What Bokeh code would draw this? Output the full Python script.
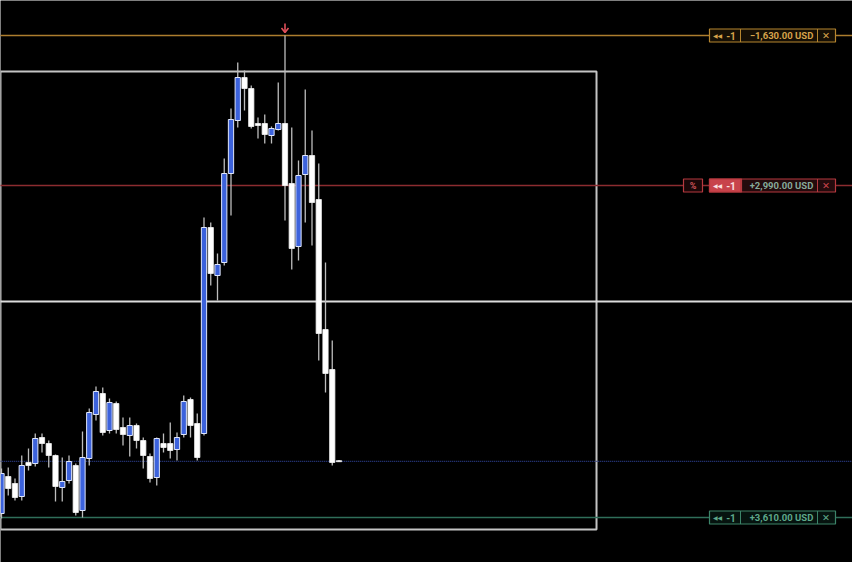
from bokeh.plotting import figure
from bokeh.models import Range1d
from bokeh.core.properties import value
from bokeh.embed import file_html
from bokeh.resources import INLINE

# ---------------- data (prices) ----------------
opens = [2143.5, 2162, 2158.5, 2152, 2169, 2168.5, 2181.5, 2178.5, 2172.5, 2156.5,
         2160, 2167.5, 2145, 2171, 2193, 2203.5, 2185, 2198.5, 2186.5, 2182.5,
         2187.5, 2180, 2172, 2161.5, 2178.5, 2178.5, 2175.5, 2183, 2200.5, 2188.5,
         2183.5, 2286.5, 2262.5, 2269, 2313.5, 2340, 2361.5, 2356, 2338.5, 2338.5,
         2332.5, 2335.5, 2338.5, 2308.5, 2277, 2313, 2322.5, 2300.5, 2235.5, 2215.5,
         2169.9]
highs = [2166, 2166.5, 2161, 2172.5, 2176, 2183.5, 2183.5, 2180, 2173, 2171.5,
         2172.5, 2168.5, 2184.5, 2196, 2207, 2206.5, 2201, 2199.5, 2191.5, 2191.5,
         2188.5, 2181.5, 2173.5, 2181.5, 2183.5, 2189, 2184, 2202.5, 2201.5, 2193.5,
         2291.5, 2289, 2273.5, 2321, 2346, 2369, 2365, 2357.5, 2341.5, 2343,
         2337, 2359, 2382.5, 2336.5, 2320, 2355.5, 2335, 2318.5, 2269, 2230,
         2170.2]
lows = [2141, 2152.5, 2150, 2150, 2165, 2167, 2174, 2166.5, 2149.5, 2149.5,
        2158.5, 2142.5, 2141.5, 2167.5, 2190, 2182.5, 2183.5, 2183.5, 2177.5, 2172,
        2176, 2166, 2159, 2157.5, 2174, 2171, 2170, 2181.5, 2181.5, 2170,
        2182.5, 2257.5, 2250, 2267.5, 2292.5, 2336.5, 2345, 2336, 2331, 2328.5,
        2328.5, 2335, 2290, 2265.5, 2270, 2289, 2277.5, 2220, 2204, 2167.5,
        2169.3]
closes = [2163.5, 2156, 2151.5, 2167.5, 2167.5, 2181, 2178.5, 2172.5, 2157, 2159.5,
          2169.5, 2144, 2171.5, 2194, 2204.5, 2184, 2199, 2185.5, 2183, 2187.5,
          2180, 2172.5, 2161, 2181, 2176.5, 2175, 2181.5, 2199.5, 2187.5, 2171.5,
          2286.5, 2263.5, 2268, 2313.5, 2340.5, 2361.5, 2356, 2337, 2337.5, 2333,
          2336, 2338.5, 2307.5, 2276, 2312.5, 2322.5, 2299, 2233.5, 2213.5, 2169,
          2169.4]
bars = list(range(len(opens)))

level_prices = [2382.5, 2307.5, 2141.5]          # stop, position, target
level_qty = ["-1", "-1", "-1"]
level_pnl = ["\u22121,630.00 USD", "+2,990.00 USD", "+3,610.00 USD"]
zone_top, zone_bottom = 2364.5, 2135.5
zone_left, zone_right = -0.15, 88.15
mid_price = 2249.5
current_price = 2169.6
spike_bar = 42

# ---------------- helpers for annotation placement ----------------
def X(rx):
    return (rx - 1) / 6.75

def Y(ry):
    return 2400 - ry / 2

PX_X = 1 / 6.75   # index units per pixel
PX_Y = 0.5        # price units per pixel

p = figure(width=852, height=562, output_backend="svg", toolbar_location=None,
           x_range=Range1d(X(0), X(852)), y_range=Range1d(Y(562), Y(0)),
           background_fill_color="#000000", border_fill_color="#000000",
           min_border=0, outline_line_color=None)
p.axis.visible = False
p.grid.visible = False

FONT = value("Roboto")

# zone rectangle
p.quad(left=[zone_left], right=[zone_right], top=[zone_top], bottom=[zone_bottom],
       fill_color=None, line_color="#c4c4c4", line_width=2)
# mid horizontal line
p.segment(x0=[-5], x1=[130], y0=[mid_price], y1=[mid_price], line_color="#dcdcdc", line_width=2)
# current price dotted line
p.segment(x0=[-5], x1=[130], y0=[current_price], y1=[current_price],
          line_color="#2d3f8f", line_width=1.2, line_dash="1 1")

line_cols = ["#ad7d2e", "#8c2c30", "#2f6e59"]
for lp, lc in zip(level_prices, line_cols):
    p.segment(x0=[-5], x1=[130], y0=[lp], y1=[lp], line_color=lc, line_width=1.5)

# candles
up = [i for i in bars if closes[i] >= opens[i]]
dn = [i for i in bars if closes[i] < opens[i]]
p.segment(x0=bars, x1=bars, y0=lows, y1=highs, line_color="#bdbdbd", line_width=1.3)
w = 0.78
p.vbar(x=[bars[i] for i in dn], width=w, top=[opens[i] for i in dn],
       bottom=[closes[i] for i in dn], fill_color="#ffffff", line_color="#f2f2f2", line_width=0.8)
p.vbar(x=[bars[i] for i in up], width=w, top=[closes[i] for i in up],
       bottom=[opens[i] for i in up], fill_color="#3c62dc", line_color="#dfe6fb", line_width=1)

# red arrow above the spike
hx, hy = spike_bar, highs[spike_bar]
p.segment(x0=[hx], x1=[hx], y0=[hy + 3 * PX_Y], y1=[hy + 12 * PX_Y],
          line_color="#e0505a", line_width=1.6)
p.line(x=[hx - 3.5 * PX_X, hx, hx + 3.5 * PX_X],
       y=[hy + 7.5 * PX_Y, hy + 3 * PX_Y, hy + 7.5 * PX_Y],
       line_color="#e0505a", line_width=1.6)

# level labels
styles = [
    dict(out="#b5852f", bg="#150f05", left_fill=None, icon="#d6a24b", txt="#d6a24b", x="#d6a24b"),
    dict(out="#b6393f", bg="#230b0d", left_fill="#c8434b", icon="#fbe0e2", txt="#86aa9b", x="#c8434b"),
    dict(out="#3c8469", bg="#06130f", left_fill=None, icon="#5ea88b", txt="#5ea88b", x="#5ea88b"),
]
half = 6.5 / 2  # 13 px box
for lp, q, pnl, st in zip(level_prices, level_qty, level_pnl, styles):
    p.quad(left=[X(709)], right=[X(835)], top=[lp + half], bottom=[lp - half],
           fill_color=st["bg"], line_color=st["out"], line_width=1.2)
    if st["left_fill"]:
        p.quad(left=[X(709)], right=[X(741)], top=[lp + half], bottom=[lp - half],
               fill_color=st["left_fill"], line_color=st["out"], line_width=1.2)
    for dx in (740, 817):
        p.segment(x0=[X(dx)], x1=[X(dx)], y0=[lp + half], y1=[lp - half],
                  line_color=st["out"], line_width=1)
    p.text(x=[X(717)], y=[lp], text=["\u25c0\u25c0"], text_color=st["icon"],
           text_font=value("DejaVu Sans"), text_font_size="6px",
           text_align="center", text_baseline="middle")
    p.text(x=[X(730.5)], y=[lp], text=[q], text_color=st["icon"], text_font=FONT,
           text_font_size="10px", text_font_style="bold", text_align="center", text_baseline="middle")
    p.text(x=[X(781)], y=[lp], text=[pnl], text_color=st["txt"], text_font=FONT,
           text_font_size="9.5px", text_font_style="bold", text_align="center", text_baseline="middle")
    p.text(x=[X(825.5)], y=[lp], text=["\u2715"], text_color=st["x"], text_font=value("DejaVu Sans"),
           text_font_size="9.5px", text_font_style="bold", text_align="center", text_baseline="middle")

# "%" box on the position line
lp = level_prices[1]
p.quad(left=[X(683)], right=[X(702)], top=[lp + 3.25], bottom=[lp - 3.25],
       fill_color="#1a0708", line_color="#b6393f", line_width=1.2)
p.text(x=[X(692.5)], y=[lp], text=["%"], text_color="#d0555b", text_font=FONT,
       text_font_size="9px", text_font_style="bold", text_align="center", text_baseline="middle")

html = file_html(p, INLINE)
html = html.replace("<body>", '<body style="background-color:#000000;">', 1)
open("out.html", "w").write(html)
